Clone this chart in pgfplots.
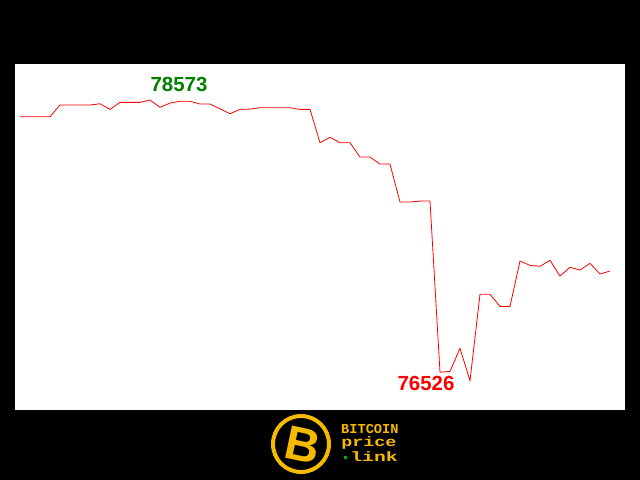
\documentclass[border=0pt]{standalone}
\usepackage{fontspec}
\setmainfont{Liberation Sans}
\newfontfamily\logofont{Liberation Mono}
\usepackage{pgfplots}
\usepackage{pgfplotstable}
\pgfplotsset{compat=1.18}
\pgfdeclarelayer{bg}
\pgfsetlayers{bg,main}
\definecolor{maxgreen}{RGB}{0,128,0}
\definecolor{gold}{RGB}{245,185,0}

% one reading every 10 px, from the picture
\pgfplotstableread{
i price
0 78451
1 78451
2 78451
3 78451
4 78537
5 78537
6 78537
7 78537
8 78546
9 78505
10 78556
11 78556
12 78556
13 78573
14 78520
15 78551
16 78564
17 78564
18 78544
19 78544
20 78509
21 78473
22 78505
23 78507
24 78517
25 78517
26 78517
27 78517
28 78505
29 78505
30 78262
31 78301
32 78262
33 78262
34 78157
35 78157
36 78106
37 78106
38 77829
39 77829
40 77836
41 77836
42 76587
43 76594
44 76762
45 76526
46 77156
47 77156
48 77068
49 77068
50 77399
51 77367
52 77360
53 77404
54 77289
55 77353
56 77333
57 77382
58 77304
59 77326
}\btcdata

\begin{document}
\begin{tikzpicture}
\begin{axis}[
    width=610bp, height=346bp, scale only axis,
    xmin=-0.5, xmax=60.5,
    ymin=76312, ymax=78836,
    hide axis,
    clip=false,
]
\coordinate (A) at (rel axis cs:0,0);
\addplot[red, line width=0.8bp, mark=none] table[x=i, y=price] {\btcdata};
\node[text=maxgreen, font=\bfseries\fontsize{20.5}{22}\selectfont] at (axis cs:15.9,78690) {78573};
\node[text=red, font=\bfseries\fontsize{20.5}{22}\selectfont] at (axis cs:40.6,76502) {76526};
\end{axis}
\begin{scope}[shift={(A)}, x=1bp, y=1bp, shift={(-15,-70)}]
\begin{pgfonlayer}{bg}
\fill[black] (0,0) rectangle (640,480);
\fill[white] (15,70) rectangle (625,416);
\end{pgfonlayer}
% logo
\draw[gold, line width=4] (301,36) circle (28);
\node[text=gold, rotate=-12, font=\bfseries\fontsize{48}{48}\selectfont] at (303,35) {B};
\node[anchor=west, text=gold, font=\logofont\bfseries\fontsize{13.7}{14}\selectfont, inner sep=0pt] at (341,51) {BITCOIN};
\node[anchor=west, text=gold, xscale=1.35, font=\logofont\bfseries\fontsize{13.7}{14}\selectfont, inner sep=0pt] at (341,37) {price};
\fill[green!70!black] (344,21) rectangle (347,24);
\node[anchor=west, text=gold, xscale=1.45, font=\logofont\bfseries\fontsize{13.7}{14}\selectfont, inner sep=0pt] at (350,23) {link};
\end{scope}
\end{tikzpicture}
\end{document}
